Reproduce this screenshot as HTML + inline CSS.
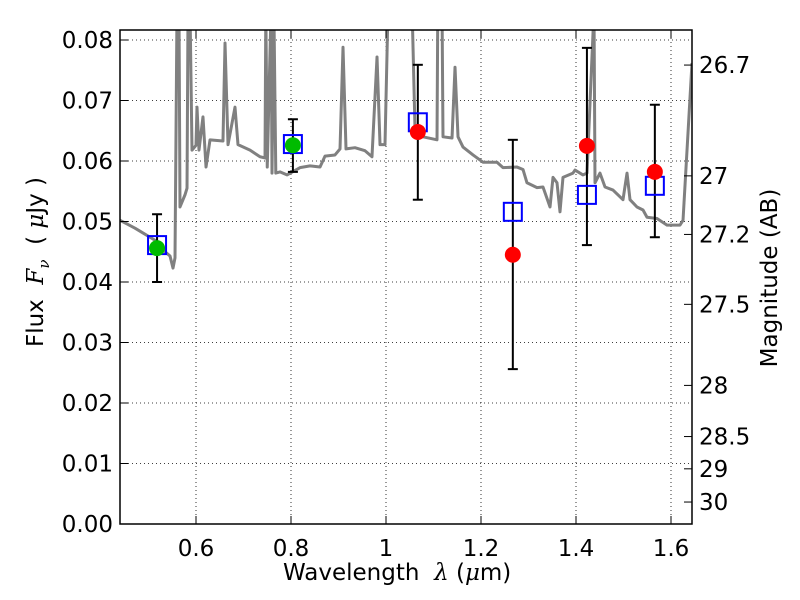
<!DOCTYPE html>
<html><head><meta charset="utf-8"><style>
body{margin:0;background:#fff;}
svg{display:block;font-family:"DejaVu Sans","Liberation Sans",sans-serif;}
</style></head><body>
<svg id="chart" width="800" height="600" viewBox="0 0 800 600"></svg>
<script>
const specLam=[0.44,0.4716,0.4926,0.5137,0.5305,0.5453,0.5516,0.5558,0.5600,0.5642,0.5663,0.5768,0.5811,0.5832,0.5874,0.5916,0.6000,0.6021,0.6063,0.6147,0.6211,0.6295,0.6568,0.6611,0.6674,0.6821,0.6884,0.7137,0.7347,0.7453,0.7470,0.7500,0.7580,0.7600,0.7640,0.7680,0.7768,0.7916,0.8189,0.8400,0.8611,0.8716,0.8926,0.9032,0.9095,0.9158,0.9347,0.9558,0.9705,0.9811,0.9874,0.9979,1.0042,1.0550,1.0611,1.0779,1.1074,1.1090,1.1180,1.1200,1.1390,1.1453,1.1516,1.1621,1.1832,1.2042,1.2337,1.2463,1.2758,1.2884,1.2968,1.3179,1.3305,1.3453,1.3516,1.3600,1.3663,1.3726,1.3937,1.3979,1.4147,1.4232,1.4379,1.4400,1.4505,1.4611,1.4779,1.4989,1.5074,1.5137,1.5284,1.5411,1.5495,1.5705,1.5916,1.6189,1.6253,1.6442];
const specFlux=[0.0502,0.0489,0.0479,0.0469,0.0453,0.0443,0.0423,0.0440,0.0850,0.0850,0.0524,0.0544,0.0555,0.0850,0.0850,0.0618,0.0626,0.0689,0.0618,0.0673,0.0590,0.0635,0.0633,0.0795,0.0627,0.0689,0.0627,0.0618,0.0607,0.0605,0.0850,0.0590,0.0850,0.0580,0.0850,0.0580,0.0582,0.0577,0.0589,0.0592,0.0590,0.0608,0.0610,0.0620,0.0788,0.0620,0.0622,0.0617,0.0607,0.0772,0.0627,0.0627,0.0850,0.0850,0.0651,0.0640,0.0635,0.0850,0.0850,0.0640,0.0638,0.0755,0.0640,0.0623,0.0610,0.0598,0.0598,0.0589,0.0590,0.0586,0.0564,0.0556,0.0557,0.0524,0.0573,0.0564,0.0516,0.0573,0.0580,0.0585,0.0577,0.0580,0.0850,0.0564,0.0580,0.0557,0.0552,0.0536,0.0580,0.0536,0.0524,0.0519,0.0507,0.0505,0.0494,0.0494,0.0502,0.0762];
const modelLam=[0.518,0.804,1.067,1.267,1.423,1.566];
const modelFlux=[0.0461,0.0628,0.0664,0.0516,0.0544,0.0559];
const detLam=[0.518,0.804];
const detFlux=[0.0456,0.0626];
const detErrLo=[0.0400,0.0582];
const detErrHi=[0.0512,0.0669];
const obsLam=[1.067,1.267,1.423,1.566];
const obsFlux=[0.0648,0.0445,0.0625,0.0582];
const obsErrLo=[0.0536,0.0256,0.0461,0.0474];
const obsErrHi=[0.0759,0.0635,0.0787,0.0693];
const xTicks=[0.6,0.8,1.0,1.2,1.4,1.6];
const xTickLabels=["0.6","0.8","1","1.2","1.4","1.6"];
const yTicks=[0,0.01,0.02,0.03,0.04,0.05,0.06,0.07,0.08];
const yTickLabels=["0.00","0.01","0.02","0.03","0.04","0.05","0.06","0.07","0.08"];
const magTicks=[26.7,27,27.2,27.5,28,28.5,29,30];
const magTickLabels=["26.7","27","27.2","27.5","28","28.5","29","30"];

const L=120,R=692,T=30,B=524;
const X=v=>L+(v-0.44)*475;
const Y=v=>B-v*6050;
const svg=document.getElementById('chart');
const NS="http://www.w3.org/2000/svg";
function mk(tag,attrs,parent){const e=document.createElementNS(NS,tag);for(const k in attrs)e.setAttribute(k,attrs[k]);(parent||svg).appendChild(e);return e;}

const defs=mk('defs',{});
const cp=mk('clipPath',{id:'clip'},defs);
mk('rect',{x:L,y:T,width:R-L,height:B-T},cp);

const grid=mk('g',{});


xTicks.forEach(v=>{mk('line',{x1:X(v),x2:X(v),y1:T,y2:B,stroke:'#000','stroke-width':0.8,'stroke-dasharray':'1,3'},grid);});
yTicks.forEach(v=>{mk('line',{x1:L,x2:R,y1:Y(v),y2:Y(v),stroke:'#000','stroke-width':0.8,'stroke-dasharray':'1,3'},grid);});

const plot=mk('g',{'clip-path':'url(#clip)'});
const sp=mk('polyline',{points:specLam.map((l,i)=>X(l)+','+Y(specFlux[i])).join(' '),fill:'none',stroke:'#808080','stroke-width':3,'stroke-linejoin':'round'},plot);



function ebar(lam,lo,hi,name){
  const g=mk('g',{},plot);
  
  
  const x=X(lam);
  mk('line',{x1:x,x2:x,y1:Y(lo),y2:Y(hi),stroke:'#000','stroke-width':2},g);
  mk('line',{x1:x-5,x2:x+5,y1:Y(lo),y2:Y(lo),stroke:'#000','stroke-width':2},g);
  mk('line',{x1:x-5,x2:x+5,y1:Y(hi),y2:Y(hi),stroke:'#000','stroke-width':2},g);
}
detLam.forEach((l,i)=>ebar(l,detErrLo[i],detErrHi[i],'detection-error-bar'));
obsLam.forEach((l,i)=>ebar(l,obsErrLo[i],obsErrHi[i],'upper-error-bar'));
modelLam.forEach((l,i)=>{
  const r=mk('rect',{x:X(l)-9,y:Y(modelFlux[i])-9,width:18,height:18,fill:'none',stroke:'#0000ff','stroke-width':2},plot);
  
  
});
detLam.forEach((l,i)=>{
  const c=mk('circle',{cx:X(l),cy:Y(detFlux[i]),r:8,fill:'#00bb00'},plot);
  
  
});
obsLam.forEach((l,i)=>{
  const c=mk('circle',{cx:X(l),cy:Y(obsFlux[i]),r:8,fill:'#ff0000'},plot);
  
  
});

const fr=mk('rect',{x:L,y:T,width:R-L,height:B-T,fill:'none',stroke:'#000','stroke-width':1.5});



const FS=23;
const xa=mk('g',{});


xTicks.forEach((v,i)=>{
  mk('line',{x1:X(v),x2:X(v),y1:B,y2:B-8,stroke:'#000'},xa);
  mk('line',{x1:X(v),x2:X(v),y1:T,y2:T+8,stroke:'#000'},xa);
  const t=mk('text',{x:X(v),y:B+32,'font-size':FS,'text-anchor':'middle'},xa);
  t.textContent=xTickLabels[i];
});
const ya=mk('g',{});


yTicks.forEach((v,i)=>{
  mk('line',{x1:L,x2:L+8,y1:Y(v),y2:Y(v),stroke:'#000'},ya);
  const t=mk('text',{x:L-7,y:Y(v)+8,'font-size':FS,'text-anchor':'end'},ya);
  t.textContent=yTickLabels[i];
});
const ma=mk('g',{});


magTicks.forEach((m,i)=>{
  const y=Y(Math.pow(10,(23.9-m)/2.5));
  mk('line',{x1:R,x2:R-8,y1:y,y2:y,stroke:'#000'},ma);
  const t=mk('text',{x:R+7,y:y+8,'font-size':FS},ma);
  t.textContent=magTickLabels[i];
});
</script>
<div style="position:absolute;left:0;top:0;width:800px;height:600px;pointer-events:none;font-family:'DejaVu Sans','Liberation Sans',sans-serif;">
<div style="position:absolute;left:283px;top:560px;font-size:23px;white-space:nowrap;">Wavelength&nbsp; <i style="font-family:'DejaVu Serif',serif;">λ</i> (<i style="font-family:'DejaVu Serif',serif;">μ</i>m)</div>
<div style="position:absolute;left:38px;top:262px;font-size:23px;white-space:nowrap;transform:translate(-50%,-50%) rotate(-90deg);">Flux&nbsp; <i style="font-family:'DejaVu Serif',serif;">F<sub style="font-size:15px;">ν</sub></i>&nbsp; ( <i style="font-family:'DejaVu Serif',serif;">μ</i>Jy )</div>
<div style="position:absolute;left:770px;top:278px;font-size:23px;white-space:nowrap;transform:translate(-50%,-50%) rotate(-90deg);">Magnitude (AB)</div>
</div>
</body></html>
